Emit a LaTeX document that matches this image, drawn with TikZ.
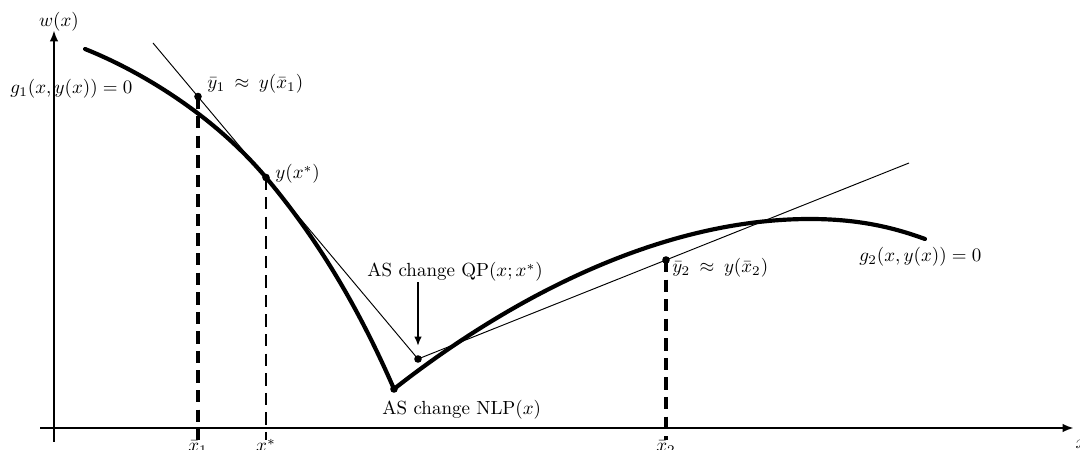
\documentclass[tikz,border=0pt]{standalone}
\usetikzlibrary{arrows.meta}
\begin{document}
\begin{tikzpicture}[x=0.5263pt,y=-0.5263pt,
  axis/.style={line width=1.4pt,-{Latex[length=6pt,width=4.5pt]}},
  curve/.style={line width=2.2pt, line join=round, line cap=round},
  thinline/.style={line width=0.5pt},
  guide/.style={line width=1.6pt, dash pattern=on 6.5pt off 3.8pt},
  guidethin/.style={line width=1.1pt, dash pattern=on 6.5pt off 3.8pt},
  dot/.style={circle, fill, inner sep=0pt, minimum size=4pt},
  lbl/.style={inner sep=0pt, anchor=base west},
  tick/.style={inner sep=0pt, anchor=base},
  arr/.style={line width=1pt,-{Latex[length=5pt,width=4pt]}, shorten >=6.8pt},
]
\useasboundingbox (0,0) rectangle (1080,450);

% key coordinates
\coordinate (p1) at (198,96.5);
\coordinate (ps) at (266,177.5);
\coordinate (pq) at (418,359);
\coordinate (pn) at (394,389);
\coordinate (p2) at (666,260);
\coordinate (pk) at (810,219);
\coordinate (g1s) at (85,49);
\coordinate (g2e) at (925,239);
\coordinate (t1) at (153,43);
\coordinate (t2) at (909,163);
\coordinate (b1) at (198,440);
\coordinate (bs) at (266,440);
\coordinate (b2) at (666,440);

% axes
\coordinate (yb) at (54,442);
\coordinate (yt) at (54,30);
\coordinate (xl) at (40,428);
\coordinate (xr) at (1074,428);
\node[tick] (wlab) at (59,27) {$w(x)$};
\node[tick] (xlab) at (1081,449) {$x$};
\node[lbl] (g1lab) at (10,94) {$g_1(x,y(x))=0$};
\draw[axis] (yb) -- (yt);
\draw[axis] (xl) -- (xr);

% thick curves
\draw[curve] (g1s) .. controls (145,73) and (216,118) .. (ps)
                   .. controls (311,231.1) and (354,297) .. (pn);
\draw[curve] (pn) .. controls (510,298) and (660,219) .. (pk)
                  .. controls (860,219) and (895,228) .. (g2e);

% thin linearisation
\draw[thinline] (t1) -- (pq) -- (t2);

% dashed guides
\draw[guide] (p1) -- (b1);
\draw[guidethin] (ps) -- (bs);
\draw[guide] (p2) -- (b2);

% points
\node[dot] (y1) at (p1) {};
\node[dot] (xs) at (ps) {};
\node[dot] (qp) at (pq) {};
\node[dot] (nlp) at (pn) {};
\node[dot] (y2) at (p2) {};

% labels
\node[lbl] (y1lab) at (207,89) {$\bar{y}_1\:\approx\:y(\bar{x}_1)$};
\node[lbl] (xslab) at (275,179) {$y(x^*)$};
\node[lbl] (y2lab) at (672,273) {$\bar{y}_2\:\approx\:y(\bar{x}_2)$};
\node[lbl] (g2lab) at (859,262) {$g_2(x,y(x))=0$};
\node[lbl] (qplab) at (367,277) {AS change QP$(x;x^*)$};
\node[lbl] (nlplab) at (382,415) {AS change NLP$(x)$};
\draw[arr] (qplab.south -| qp) -- (qp.center);

% tick labels
\node[tick] (tx1) at (198,452) {$\bar{x}_1$};
\node[tick] (txs) at (266,452) {$x^*$};
\node[tick] (tx2) at (666,452) {$\bar{x}_2$};
\end{tikzpicture}
\end{document}
